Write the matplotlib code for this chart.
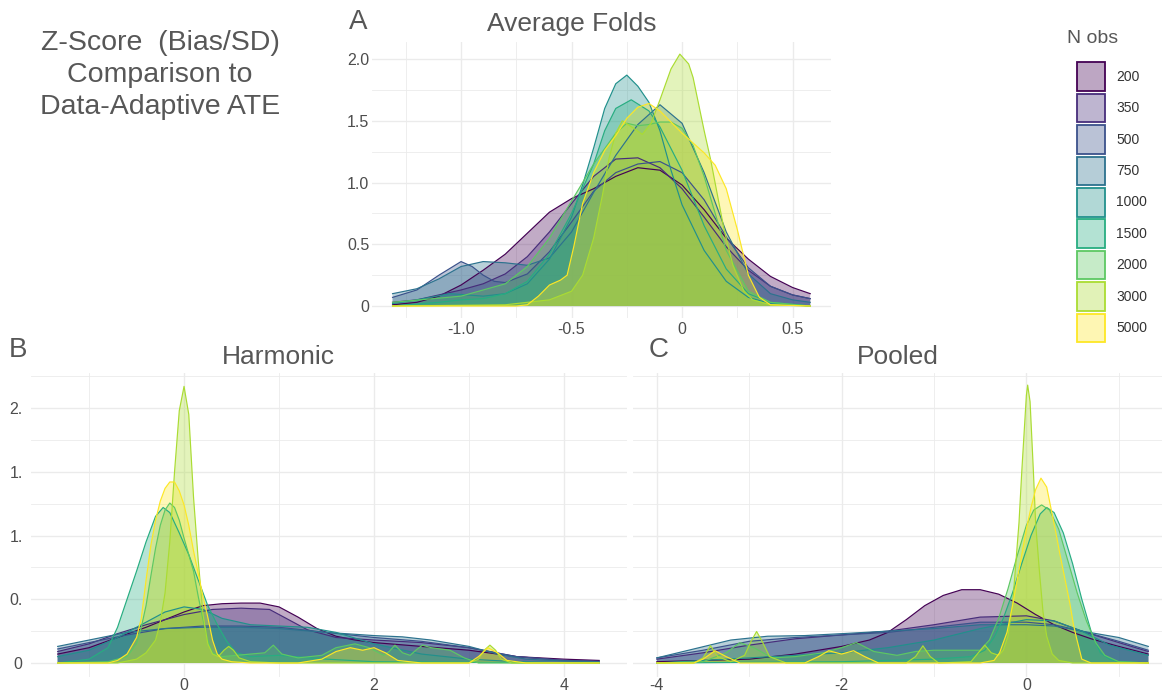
import matplotlib
matplotlib.use("Agg")
import matplotlib.pyplot as plt
from matplotlib.patches import Rectangle
from matplotlib.colors import to_rgba

plt.rcParams['font.family'] = ['Liberation Sans', 'DejaVu Sans']

W, H = 1162, 694

n_obs = ["200", "350", "500", "750", "1000", "1500", "2000", "3000", "5000"]
colors = ["#440154", "#472D7B", "#3B528B", "#2C728E", "#21908C",
          "#27AD81", "#5DC863", "#AADC32", "#FDE725"]

# ---------------- Panel A : Average Folds ----------------
A_x_200 = [-1.31, -1.2, -1.1, -1.0, -0.9, -0.8, -0.7, -0.6, -0.5, -0.4, -0.3, -0.2, -0.1, 0.0, 0.1, 0.2, 0.3, 0.4, 0.5, 0.58]
A_y_200 = [0.01, 0.03, 0.08, 0.17, 0.29, 0.42, 0.59, 0.76, 0.87, 0.95, 1.05, 1.12, 1.10, 0.98, 0.78, 0.55, 0.38, 0.24, 0.15, 0.10]
A_x_350 = [-1.31, -1.2, -1.1, -1.0, -0.9, -0.8, -0.7, -0.6, -0.5, -0.4, -0.3, -0.2, -0.1, 0.0, 0.1, 0.2, 0.3, 0.4, 0.5, 0.58]
A_y_350 = [0.03, 0.05, 0.09, 0.13, 0.18, 0.26, 0.40, 0.60, 0.83, 1.05, 1.19, 1.20, 1.12, 0.95, 0.72, 0.48, 0.29, 0.16, 0.09, 0.06]
A_x_500 = [-1.31, -1.2, -1.1, -1.0, -0.95, -0.9, -0.85, -0.8, -0.7, -0.6, -0.5, -0.4, -0.3, -0.2, -0.1, 0.0, 0.1, 0.2, 0.3, 0.4, 0.5, 0.58]
A_y_500 = [0.07, 0.13, 0.25, 0.36, 0.32, 0.25, 0.20, 0.19, 0.26, 0.44, 0.68, 0.93, 1.08, 1.15, 1.17, 1.08, 0.86, 0.56, 0.31, 0.16, 0.09, 0.06]
A_x_750 = [-1.31, -1.2, -1.1, -1.0, -0.9, -0.8, -0.7, -0.6, -0.5, -0.4, -0.3, -0.2, -0.1, 0.0, 0.1, 0.2, 0.3, 0.4, 0.5, 0.58]
A_y_750 = [0.10, 0.14, 0.22, 0.32, 0.36, 0.35, 0.33, 0.39, 0.60, 0.92, 1.22, 1.47, 1.63, 1.48, 1.08, 0.60, 0.26, 0.10, 0.05, 0.03]
A_x_1000 = [-1.31, -1.2, -1.05, -0.9, -0.8, -0.7, -0.6, -0.5, -0.45, -0.4, -0.35, -0.3, -0.25, -0.2, -0.15, -0.1, -0.05, 0.0, 0.1, 0.2, 0.3, 0.4, 0.58]
A_y_1000 = [0.02, 0.05, 0.10, 0.08, 0.10, 0.18, 0.38, 0.72, 0.98, 1.28, 1.60, 1.80, 1.87, 1.78, 1.65, 1.42, 1.10, 0.82, 0.45, 0.20, 0.07, 0.02, 0.0]
A_x_1500 = [-1.31, -1.1, -1.0, -0.9, -0.8, -0.7, -0.6, -0.5, -0.4, -0.35, -0.3, -0.23, -0.15, -0.1, 0.0, 0.1, 0.2, 0.3, 0.4, 0.58]
A_y_1500 = [0.0, 0.03, 0.05, 0.06, 0.10, 0.20, 0.42, 0.75, 1.15, 1.42, 1.60, 1.67, 1.58, 1.45, 1.10, 0.65, 0.30, 0.10, 0.03, 0.0]
A_x_2000 = [-1.31, -1.0, -0.8, -0.7, -0.6, -0.5, -0.4, -0.3, -0.25, -0.2, -0.15, -0.1, -0.05, 0.0, 0.05, 0.1, 0.15, 0.2, 0.3, 0.4, 0.58]
A_y_2000 = [0.03, 0.08, 0.18, 0.32, 0.55, 0.85, 1.15, 1.40, 1.48, 1.46, 1.47, 1.49, 1.49, 1.44, 1.30, 1.05, 0.75, 0.45, 0.12, 0.03, 0.0]
A_x_3000 = [-1.31, -0.8, -0.6, -0.5, -0.45, -0.4, -0.36, -0.33, -0.3, -0.27, -0.22, -0.18, -0.14, -0.1, -0.05, -0.01, 0.03, 0.05, 0.1, 0.13, 0.16, 0.19, 0.23, 0.28, 0.32, 0.4, 0.58]
A_y_3000 = [0.0, 0.01, 0.05, 0.12, 0.25, 0.55, 0.90, 1.20, 1.40, 1.50, 1.44, 1.39, 1.48, 1.67, 1.92, 2.04, 1.96, 1.85, 1.42, 1.18, 0.90, 0.62, 0.33, 0.12, 0.05, 0.01, 0.0]
A_x_5000 = [-1.31, -0.75, -0.7, -0.65, -0.6, -0.55, -0.52, -0.49, -0.45, -0.4, -0.35, -0.3, -0.25, -0.2, -0.15, -0.1, -0.05, 0.0, 0.05, 0.1, 0.15, 0.2, 0.25, 0.3, 0.35, 0.4, 0.58]
A_y_5000 = [0.0, 0.0, 0.01, 0.08, 0.17, 0.21, 0.25, 0.48, 0.83, 1.08, 1.26, 1.38, 1.52, 1.61, 1.64, 1.58, 1.49, 1.40, 1.32, 1.24, 1.14, 0.95, 0.62, 0.25, 0.07, 0.01, 0.0]

# ---------------- Panel B : Harmonic ----------------
B_x_200 = [-1.33, -1.0, -0.7, -0.4, -0.2, 0.0, 0.2, 0.4, 0.6, 0.8, 1.0, 1.2, 1.4, 1.6, 1.8, 2.0, 2.5, 3.0, 3.5, 4.0, 4.37]
B_y_200 = [0.07, 0.12, 0.20, 0.28, 0.34, 0.40, 0.45, 0.465, 0.47, 0.47, 0.44, 0.36, 0.27, 0.21, 0.18, 0.16, 0.13, 0.10, 0.05, 0.03, 0.02]
B_x_350 = [-1.33, -1.0, -0.7, -0.4, 0.0, 0.3, 0.6, 0.9, 1.1, 1.3, 1.6, 2.0, 2.5, 3.0, 3.5, 4.0, 4.37]
B_y_350 = [0.09, 0.15, 0.23, 0.30, 0.38, 0.42, 0.43, 0.42, 0.34, 0.26, 0.20, 0.18, 0.16, 0.12, 0.05, 0.02, 0.015]
B_x_500 = [-1.33, -1.0, -0.6, -0.2, 0.2, 0.6, 1.0, 1.5, 2.0, 2.5, 3.0, 3.5, 4.0, 4.37]
B_y_500 = [0.11, 0.16, 0.22, 0.27, 0.29, 0.29, 0.28, 0.24, 0.20, 0.17, 0.12, 0.05, 0.02, 0.01]
B_x_750 = [-1.33, -1.0, -0.6, -0.2, 0.2, 0.6, 1.0, 1.5, 2.0, 2.3, 2.6, 3.0, 3.3, 3.6, 4.0, 4.37]
B_y_750 = [0.13, 0.18, 0.24, 0.27, 0.28, 0.28, 0.27, 0.24, 0.215, 0.205, 0.18, 0.13, 0.07, 0.03, 0.015, 0.01]
B_x_1000 = [-1.33, -1.0, -0.7, -0.4, -0.2, 0.0, 0.2, 0.4, 0.7, 1.0, 1.3, 1.6, 2.0, 2.5, 3.0, 3.5, 4.37]
B_y_1000 = [0.05, 0.10, 0.20, 0.32, 0.40, 0.44, 0.42, 0.35, 0.30, 0.29, 0.28, 0.24, 0.15, 0.07, 0.03, 0.01, 0.0]
B_x_1500 = [-1.33, -1.0, -0.8, -0.7, -0.6, -0.5, -0.4, -0.3, -0.22, -0.15, -0.05, 0.05, 0.15, 0.25, 0.35, 0.45, 0.55, 0.7, 1.0, 1.5, 2.0, 4.37]
B_y_1500 = [0.0, 0.03, 0.12, 0.28, 0.50, 0.72, 0.95, 1.15, 1.22, 1.18, 1.02, 0.85, 0.65, 0.45, 0.30, 0.17, 0.08, 0.05, 0.06, 0.03, 0.01, 0.0]
B_x_2000 = [-1.33, -0.8, -0.6, -0.5, -0.45, -0.4, -0.35, -0.3, -0.25, -0.2, -0.15, -0.1, -0.05, 0.0, 0.05, 0.1, 0.15, 0.2, 0.25, 0.3, 0.4, 0.55, 0.7, 0.85, 0.94, 1.03, 1.2, 1.45, 1.6, 1.8, 1.95, 2.1, 2.16, 2.22, 2.3, 2.38, 2.44, 2.51, 2.6, 2.8, 2.95, 3.1, 4.37]
B_y_2000 = [0.0, 0.01, 0.05, 0.15, 0.28, 0.45, 0.68, 0.90, 1.08, 1.20, 1.255, 1.22, 1.12, 0.98, 0.85, 0.72, 0.52, 0.34, 0.18, 0.08, 0.05, 0.06, 0.07, 0.08, 0.14, 0.07, 0.04, 0.06, 0.12, 0.15, 0.12, 0.06, 0.09, 0.14, 0.08, 0.06, 0.10, 0.14, 0.12, 0.10, 0.04, 0.0, 0.0]
B_x_3000 = [-1.33, -0.7, -0.5, -0.4, -0.3, -0.25, -0.2, -0.15, -0.1, -0.05, 0.0, 0.05, 0.1, 0.15, 0.2, 0.25, 0.3, 0.36, 0.42, 0.47, 0.52, 0.58, 0.7, 1.0, 2.0, 3.0, 3.1, 3.16, 3.22, 3.28, 3.34, 3.45, 4.37]
B_y_3000 = [0.0, 0.0, 0.03, 0.08, 0.18, 0.32, 0.55, 0.95, 1.50, 1.98, 2.17, 1.95, 1.30, 0.80, 0.38, 0.15, 0.07, 0.05, 0.10, 0.13, 0.10, 0.04, 0.01, 0.0, 0.0, 0.0, 0.03, 0.10, 0.14, 0.10, 0.03, 0.0, 0.0]
B_x_5000 = [-1.33, -0.8, -0.7, -0.6, -0.5, -0.45, -0.4, -0.35, -0.3, -0.25, -0.2, -0.15, -0.1, -0.05, 0.0, 0.05, 0.1, 0.15, 0.2, 0.25, 0.3, 0.35, 0.4, 0.5, 0.7, 1.2, 1.45, 1.6, 1.75, 1.88, 2.0, 2.12, 2.25, 2.5, 3.0, 3.1, 3.2, 3.3, 3.4, 3.6, 4.37]
B_y_5000 = [0.0, 0.0, 0.02, 0.07, 0.20, 0.35, 0.65, 0.92, 1.12, 1.27, 1.37, 1.42, 1.42, 1.35, 1.24, 1.08, 0.88, 0.70, 0.52, 0.36, 0.18, 0.07, 0.03, 0.01, 0.0, 0.0, 0.03, 0.09, 0.12, 0.10, 0.12, 0.08, 0.02, 0.0, 0.0, 0.05, 0.12, 0.08, 0.02, 0.0, 0.0]

# ---------------- Panel C : Pooled ----------------
C_x_200 = [-4.0, -3.5, -3.0, -2.5, -2.0, -1.7, -1.5, -1.3, -1.1, -0.9, -0.7, -0.5, -0.3, -0.1, 0.1, 0.3, 0.5, 0.7, 1.0, 1.32]
C_y_200 = [0.01, 0.02, 0.03, 0.07, 0.13, 0.18, 0.24, 0.34, 0.45, 0.53, 0.575, 0.575, 0.54, 0.47, 0.38, 0.30, 0.24, 0.19, 0.13, 0.07]
C_x_350 = [-4.0, -3.5, -3.0, -2.5, -2.0, -1.5, -1.0, -0.5, 0.0, 0.3, 0.6, 1.0, 1.32]
C_y_350 = [0.03, 0.08, 0.14, 0.19, 0.22, 0.25, 0.30, 0.36, 0.37, 0.33, 0.25, 0.16, 0.09]
C_x_500 = [-4.0, -3.5, -3.0, -2.5, -2.0, -1.5, -1.0, -0.5, 0.0, 0.3, 0.6, 1.0, 1.32]
C_y_500 = [0.04, 0.10, 0.17, 0.20, 0.22, 0.24, 0.28, 0.32, 0.32, 0.30, 0.25, 0.17, 0.10]
C_x_750 = [-4.0, -3.6, -3.2, -2.8, -2.4, -2.0, -1.5, -1.0, -0.5, 0.0, 0.3, 0.6, 1.0, 1.32]
C_y_750 = [0.04, 0.11, 0.18, 0.21, 0.215, 0.23, 0.25, 0.27, 0.30, 0.30, 0.29, 0.25, 0.20, 0.13]
C_x_1000 = [-4.0, -3.0, -2.0, -1.5, -1.0, -0.5, 0.0, 0.3, 0.6, 0.9, 1.32]
C_y_1000 = [0.0, 0.04, 0.08, 0.12, 0.18, 0.27, 0.34, 0.33, 0.25, 0.14, 0.06]
C_x_1500 = [-4.0, -2.0, -1.0, -0.6, -0.45, -0.35, -0.25, -0.15, -0.05, 0.05, 0.15, 0.22, 0.3, 0.4, 0.5, 0.6, 0.7, 0.8, 0.9, 1.0, 1.32]
C_y_1500 = [0.0, 0.01, 0.03, 0.05, 0.10, 0.20, 0.35, 0.55, 0.78, 1.00, 1.17, 1.22, 1.18, 1.02, 0.78, 0.50, 0.25, 0.08, 0.03, 0.01, 0.0]
C_x_2000 = [-4.0, -3.5, -3.25, -3.1, -2.95, -2.75, -2.5, -2.2, -2.0, -1.84, -1.65, -1.4, -1.2, -1.0, -0.7, -0.5, -0.4, -0.3, -0.2, -0.1, 0.0, 0.08, 0.165, 0.25, 0.35, 0.45, 0.55, 0.65, 0.75, 0.85, 1.0, 1.32]
C_y_2000 = [0.0, 0.01, 0.08, 0.16, 0.12, 0.04, 0.05, 0.08, 0.12, 0.16, 0.09, 0.06, 0.09, 0.10, 0.10, 0.10, 0.18, 0.35, 0.58, 0.84, 1.08, 1.20, 1.24, 1.20, 1.05, 0.80, 0.55, 0.33, 0.16, 0.06, 0.01, 0.0]
C_x_3000 = [-4.0, -3.6, -3.5, -3.42, -3.34, -3.2, -3.05, -2.98, -2.92, -2.86, -2.78, -2.6, -1.3, -1.2, -1.12, -1.04, -0.95, -0.6, -0.52, -0.45, -0.38, -0.3, -0.25, -0.2, -0.15, -0.12, -0.08, -0.05, 0.0, 0.014, 0.04, 0.075, 0.1, 0.14, 0.18, 0.22, 0.28, 0.35, 0.5, 1.32]
C_y_3000 = [0.0, 0.0, 0.04, 0.135, 0.05, 0.01, 0.06, 0.17, 0.247, 0.17, 0.05, 0.0, 0.0, 0.05, 0.135, 0.05, 0.0, 0.01, 0.08, 0.14, 0.08, 0.06, 0.10, 0.21, 0.45, 0.73, 1.10, 1.50, 2.10, 2.18, 2.05, 1.52, 1.10, 0.73, 0.40, 0.21, 0.07, 0.02, 0.0, 0.0]
C_x_5000 = [-4.0, -3.6, -3.5, -3.37, -3.25, -3.1, -2.4, -2.25, -2.14, -2.0, -1.87, -1.75, -1.6, -0.5, -0.35, -0.29, -0.21, -0.15, -0.1, -0.05, 0.0, 0.05, 0.1, 0.158, 0.22, 0.27, 0.32, 0.36, 0.42, 0.47, 0.51, 0.545, 0.6, 0.7, 1.32]
C_y_5000 = [0.0, 0.0, 0.03, 0.096, 0.05, 0.0, 0.0, 0.05, 0.096, 0.07, 0.096, 0.05, 0.0, 0.0, 0.02, 0.08, 0.24, 0.45, 0.65, 0.85, 1.05, 1.22, 1.36, 1.45, 1.38, 1.20, 1.02, 0.865, 0.65, 0.47, 0.30, 0.19, 0.03, 0.0, 0.0]

panel_A = [(A_x_200, A_y_200), (A_x_350, A_y_350), (A_x_500, A_y_500), (A_x_750, A_y_750),
           (A_x_1000, A_y_1000), (A_x_1500, A_y_1500), (A_x_2000, A_y_2000),
           (A_x_3000, A_y_3000), (A_x_5000, A_y_5000)]
panel_B = [(B_x_200, B_y_200), (B_x_350, B_y_350), (B_x_500, B_y_500), (B_x_750, B_y_750),
           (B_x_1000, B_y_1000), (B_x_1500, B_y_1500), (B_x_2000, B_y_2000),
           (B_x_3000, B_y_3000), (B_x_5000, B_y_5000)]
panel_C = [(C_x_200, C_y_200), (C_x_350, C_y_350), (C_x_500, C_y_500), (C_x_750, C_y_750),
           (C_x_1000, C_y_1000), (C_x_1500, C_y_1500), (C_x_2000, C_y_2000),
           (C_x_3000, C_y_3000), (C_x_5000, C_y_5000)]

ALPHA = 0.33
GRID = "#EBEBEB"
TICKC = "#4D4D4D"
TITLEC = "#575757"

fig = plt.figure(figsize=(W / 100, H / 100), dpi=100)


def px_axes(left, top, right, bottom):
    return fig.add_axes([left / W, 1 - bottom / H, (right - left) / W, (bottom - top) / H])


def style(ax, xlim, ylim, xmaj, xmin, xlabels, ymaj, ymin, ylabels, xpad, ypad):
    ax.set_xlim(*xlim)
    ax.set_ylim(*ylim)
    ax.set_xticks(xmaj)
    ax.set_xticks(xmin, minor=True)
    ax.set_xticklabels(xlabels)
    ax.set_yticks(ymaj)
    ax.set_yticks(ymin, minor=True)
    ax.set_yticklabels(ylabels)
    ax.grid(which="major", color=GRID, lw=1.0)
    ax.grid(which="minor", color=GRID, lw=0.6)
    ax.set_axisbelow(True)
    for s in ax.spines.values():
        s.set_visible(False)
    ax.tick_params(which="both", length=0, labelsize=11.5, colors=TICKC)
    ax.tick_params(axis="x", pad=xpad)
    ax.tick_params(axis="y", pad=ypad)
    ax.set_facecolor("white")


def draw(ax, series):
    for (xs, ys), c in zip(series, colors):
        ax.fill_between(xs, ys, 0, facecolor=to_rgba(c, ALPHA), lw=0)
        ax.plot(xs, ys, color=c, lw=0.85)


# Panel A
axA = px_axes(372, 42, 831, 318)
draw(axA, panel_A)
style(axA, (-1.403, 0.674), (-0.097, 2.138),
      [-1.0, -0.5, 0.0, 0.5], [-1.25, -0.75, -0.25, 0.25], ["-1.0", "-0.5", "0", "0.5"],
      [0, 0.5, 1.0, 1.5, 2.0], [0.25, 0.75, 1.25, 1.75], ["0", "0.5", "1.0", "1.5", "2.0"], 3, 2)

# Panel B
axB = px_axes(31, 373, 627, 677)
draw(axB, panel_B)
style(axB, (-1.611, 4.663), (-0.11, 2.275),
      [0, 2, 4], [-1, 1, 3], ["0", "2", "4"],
      [0, 0.5, 1.0, 1.5, 2.0], [0.25, 0.75, 1.25, 1.75, 2.25], ["0", "0.", "1.", "1.", "2."], 0.5, 6)

# Panel C
axC = px_axes(633, 373, 1162, 677)
draw(axC, panel_C)
style(axC, (-4.258, 1.468), (-0.11, 2.275),
      [-4, -2, 0], [-3, -1, 1], ["-4", "-2", "0"],
      [0, 0.5, 1.0, 1.5, 2.0], [0.25, 0.75, 1.25, 1.75, 2.25], ["", "", "", "", ""], 0.5, 6)


# Titles and labels
def ftext(x, y, s, **kw):
    fig.text(x / W, 1 - y / H, s, **kw)


ftext(160, 75, "Z-Score  (Bias/SD)\nComparison to\nData-Adaptive ATE", ha="center", va="center",
      fontsize=20.5, color=TITLEC, linespacing=1.32)
ftext(572, 24, "Average Folds", ha="center", va="center", fontsize=19, color=TITLEC)
ftext(278, 357, "Harmonic", ha="center", va="center", fontsize=19, color=TITLEC)
ftext(898, 357, "Pooled", ha="center", va="center", fontsize=19, color=TITLEC)
ftext(358, 22, "A", ha="center", va="center", fontsize=20, color=TITLEC)
ftext(18, 350, "B", ha="center", va="center", fontsize=20, color=TITLEC)
ftext(659, 350, "C", ha="center", va="center", fontsize=20, color=TITLEC)

# Legend
lg = fig.add_axes([0, 0, 1, 1])
lg.set_xlim(0, W)
lg.set_ylim(H, 0)
lg.axis("off")
lg.patch.set_alpha(0)
lg.text(1093, 38, "N obs", ha="center", va="center", fontsize=14, color=TITLEC)
for i, (lab, c) in enumerate(zip(n_obs, colors)):
    y0 = 62.3 + i * 31.4
    lg.add_patch(Rectangle((1077, y0), 28.3, 28.7, facecolor=to_rgba(c, 0.35),
                           edgecolor=c, lw=1.3))
    lg.text(1116, y0 + 14.5, lab, ha="left", va="center", fontsize=10, color="#333333")

fig.savefig("out.png", dpi=100, facecolor="white")
